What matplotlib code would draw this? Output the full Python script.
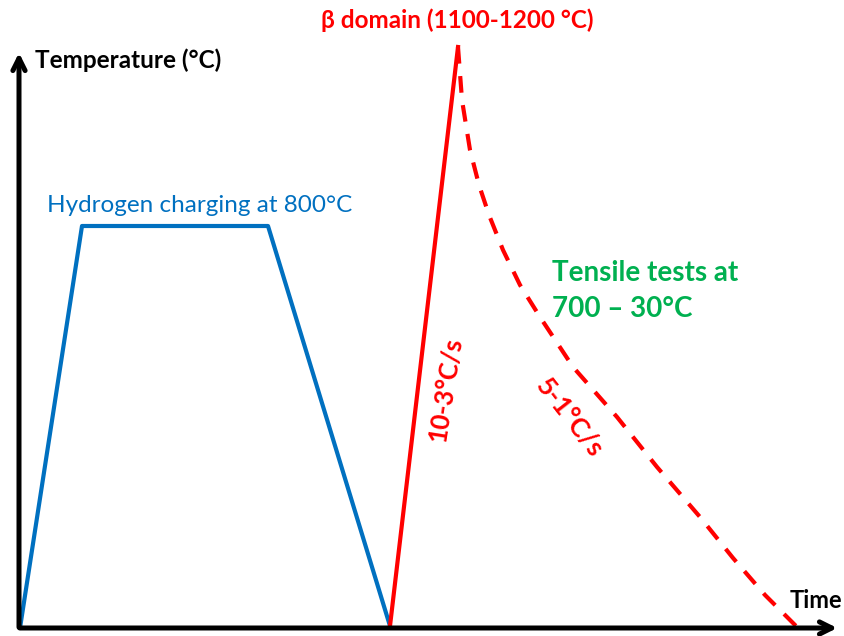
import matplotlib
matplotlib.use('Agg')
from matplotlib import pyplot as plt

# schematic drawn in picture coordinates (x right, y down)
blue_x = [20, 82, 268, 390]
blue_y = [628, 226, 226, 626]

heat_x = [390, 458]
heat_y = [626, 47]

cool_x = [458, 462, 470, 479, 489, 503, 520, 540, 573, 617, 657, 700, 733, 765, 797]
cool_y = [47, 100, 150, 185, 215, 250, 285, 317, 367, 417, 467, 517, 558, 595, 627]

blue = '#0070C0'
red = '#FF0000'
green = '#00B050'

plt.rcParams['font.family'] = ['Lato', 'DejaVu Sans']

fig = plt.figure(figsize=(8.45, 6.36), dpi=100)
ax = fig.add_axes([0, 0, 1, 1])
ax.set_xlim(0, 845)
ax.set_ylim(636, 0)
ax.axis('off')

# axes arrows
ax.annotate('', xy=(19, 50), xytext=(19, 630),
            arrowprops=dict(arrowstyle='->', lw=3.6, color='black', mutation_scale=22))
ax.annotate('', xy=(840, 628), xytext=(17, 628),
            arrowprops=dict(arrowstyle='->', lw=3.6, color='black', mutation_scale=22))

ax.plot(blue_x, blue_y, color=blue, lw=3, solid_capstyle='round')
ax.plot(heat_x, heat_y, color=red, lw=3)
ax.plot(cool_x, cool_y, color=red, lw=3, linestyle=(0, (4, 3)))

ax.text(35, 60, 'Temperature (°C)', fontsize=17.5, fontweight='bold', va='center', ha='left')
ax.text(842, 600, 'Time', fontsize=17, fontweight='bold', va='center', ha='right')
ax.text(457, 20, 'β domain (1100-1200 °C)', fontsize=17.5, fontweight='bold',
        color=red, va='center', ha='center')
ax.text(47, 205, 'Hydrogen charging at 800°C', fontsize=17.5, color=blue,
        va='center', ha='left')
ax.text(552, 273, 'Tensile tests at', fontsize=20, fontweight='bold', color=green,
        va='center', ha='left')
ax.text(552, 309, '700 – 30°C', fontsize=20, fontweight='bold', color=green,
        va='center', ha='left')
ax.text(446, 390, '10-3°C/s', fontsize=18.5, fontweight='bold', color=red,
        rotation=81, va='center', ha='center')
ax.text(569, 418, '5-1°C/s', fontsize=19, fontweight='bold', color=red,
        rotation=-52, va='center', ha='center')

fig.savefig('out.png', dpi=100)
